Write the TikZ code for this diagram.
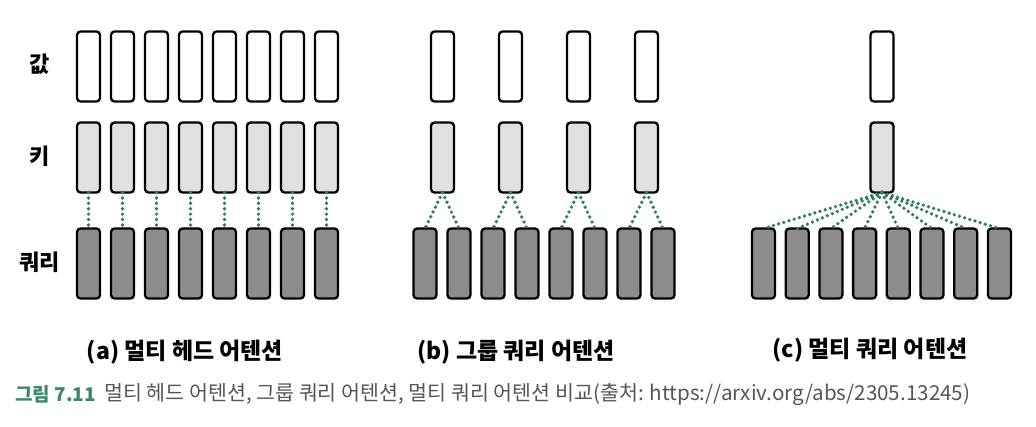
\documentclass[tikz,border=0pt]{standalone}
\usepackage{fontspec}
\setmainfont{Noto Sans CJK KR}
\usetikzlibrary{positioning}

\definecolor{dotgreen}{HTML}{2E7D5B}
\definecolor{capgreen}{HTML}{3A8A6A}
\definecolor{capgray}{HTML}{555555}
\definecolor{qrygray}{HTML}{8C8C8C}
\definecolor{keygray}{HTML}{E0E0E0}

\begin{document}
\begin{tikzpicture}[
  x=1pt, y=-1pt,
  node distance=11pt,
  box/.style={
    draw,
    line width=2.3pt,
    rounded corners=3.5pt,
    minimum width=23pt,
    minimum height=70pt,
    inner sep=0pt,
    outer sep=0pt
  },
  valbox/.style={box, fill=white},
  keybox/.style={box, fill=keygray},
  qrybox/.style={box, fill=qrygray},
  link/.style={dotgreen, line width=3.7pt, dash pattern=on 0pt off 5.4pt, line cap=round},
  rowlabel/.style={font=\fontsize{22}{22}\selectfont\bfseries},
  sublabel/.style={font=\fontsize{23}{23}\selectfont\bfseries}
]
\useasboundingbox (0,0) rectangle (1036,426);

% Row labels
\node[rowlabel] (lab_val) at (40,64) {값};
\node[rowlabel] (lab_key) at (40,156) {키};
\node[rowlabel] (lab_qry) at (40,262) {쿼리};

% (a) multi-head
\node[valbox] (a_val1) at (88.5,66.5) {};
\node[keybox,below=21pt of a_val1] (a_key1) {};
\node[qrybox,below=36pt of a_key1] (a_qry1) {};
\foreach \i [evaluate=\i as \j using int(\i-1)] in {2,...,8} {
  \node[valbox,right=of a_val\j] (a_val\i) {};
  \node[keybox,below=21pt of a_val\i] (a_key\i) {};
  \node[qrybox,below=36pt of a_key\i] (a_qry\i) {};
}
\foreach \i in {1,...,8}
  \draw[link] (a_key\i.south) -- (a_qry\i.north);

% (b) grouped-query
\node[valbox] (b_val1) at (442.5,66.5) {};
\node[keybox,below=21pt of b_val1] (b_key1) {};
\foreach \i [evaluate=\i as \j using int(\i-1)] in {2,...,4} {
  \node[valbox,right=45pt of b_val\j] (b_val\i) {};
  \node[keybox,below=21pt of b_val\i] (b_key\i) {};
}
\node[qrybox] (b_qry1) at (425,263.5) {};
\foreach \i [evaluate=\i as \j using int(\i-1)] in {2,...,8}
  \node[qrybox,right=of b_qry\j] (b_qry\i) {};
\foreach \k [evaluate=\k as \m using int(2*\k-1), evaluate=\k as \n using int(2*\k)] in {1,...,4} {
  \draw[link] (b_key\k.south) -- (b_qry\m.north);
  \draw[link] (b_key\k.south) -- (b_qry\n.north);
}

% (c) multi-query
\node[valbox] (c_val) at (882,66.5) {};
\node[keybox,below=21pt of c_val] (c_key) {};
\node[qrybox] (c_qry1) at (763.5,263.5) {};
\foreach \i [evaluate=\i as \j using int(\i-1)] in {2,...,8}
  \node[qrybox,right=10.7pt of c_qry\j] (c_qry\i) {};
\foreach \i in {1,...,8}
  \draw[link] (c_key.south) -- (c_qry\i.north);

% Sub-labels
\node[sublabel] (sub_a) at (185,352) {(a) 멀티 헤드 어텐션};
\node[sublabel] (sub_b) at (516,352) {(b) 그룹 쿼리 어텐션};
\node[sublabel] (sub_c) at (870,350) {(c) 멀티 쿼리 어텐션};

% Caption
\node[anchor=west,inner sep=0pt,text=capgreen,font=\fontsize{19}{19}\selectfont\bfseries] (cap_num) at (15,394) {그림 7.11};
\node[right=8pt of cap_num,inner sep=0pt,text=capgray,font=\fontsize{20.6}{20.6}\selectfont] (cap_text)
  {멀티 헤드 어텐션, 그룹 쿼리 어텐션, 멀티 쿼리 어텐션 비교(출처: https://arxiv.org/abs/2305.13245)};

\end{tikzpicture}
\end{document}
